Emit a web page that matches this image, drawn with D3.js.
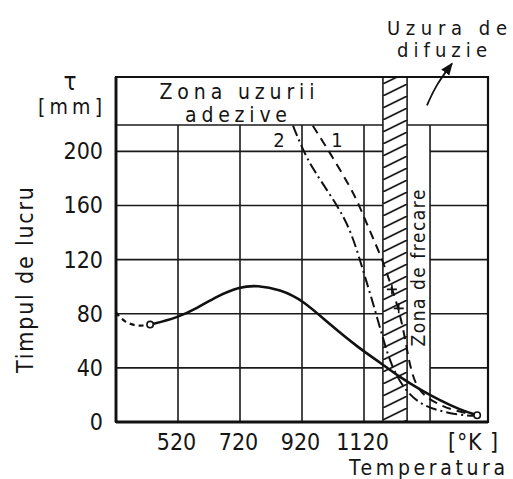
<!DOCTYPE html>
<html lang="ro">
<head>
<meta charset="UTF-8">
<title>Timpul de lucru - Temperatura</title>
<style>
body { margin: 0; background: #fff; }
svg text { font-family: "DejaVu Sans Condensed", "DejaVu Sans", sans-serif; fill: #151515; }
.grid { stroke: #1a1a1a; stroke-width: 1.6; }
.frame { stroke: #111; stroke-width: 2.2; fill: none; }
</style>
</head>
<body>
<script src="https://cdnjs.cloudflare.com/ajax/libs/d3/7.8.5/d3.min.js"></script>
<script>
// values: temperature [K] on x, time [mm] on y
var xTicks = [520, 720, 920, 1120];
var yTicks = [0, 40, 80, 120, 160, 200];
var headerLevel = 219.5;
var zoneLimits = [1181, 1259, 1333]; // hatched band left/right, friction zone right edge

var mainDashed = [[320, 81], [345, 74], [390, 70.5], [430, 72]];
var mainSolid = [[430, 72], [517, 77], [581, 84], [646, 93], [720, 100], [775, 101], [849, 98],
  [923, 90], [1010, 72], [1107, 54], [1172, 44], [1236, 33], [1301, 24],
  [1365, 16], [1430, 9], [1485, 5]];
var curve1 = [[955, 219], [1010, 199], [1075, 174], [1107, 159], [1139, 141], [1178, 121],
  [1210, 99], [1236, 80], [1254, 60], [1270, 39], [1294, 23], [1349, 14], [1414, 8], [1485, 5]];
var curve2 = [[891, 219], [923, 201], [955, 187], [1017, 166], [1075, 144],
  [1117, 112], [1149, 88], [1181, 62], [1206, 43], [1246, 25], [1301, 13], [1365, 8],
  [1430, 5], [1485, 4.5]];
var crossMarks = [[1210, 98], [1232, 84]];
var openPoints = [[430, 72], [1485, 5]];
var arrowPath = [[1323, 234], [1352, 249], [1404, 265]];

var W = 513, H = 479;
var x = d3.scaleLinear().domain([320, 1520]).range([116, 488]);
var y = d3.scaleLinear().domain([0, 255]).range([422, 77]);

var svg = d3.select('body').append('svg').attr('width', W).attr('height', H);

var defs = svg.append('defs');
defs.append('pattern')
    .attr('id', 'hatch')
    .attr('patternUnits', 'userSpaceOnUse')
    .attr('x', x(zoneLimits[0])).attr('y', 0)
    .attr('width', x(zoneLimits[1]) - x(zoneLimits[0])).attr('height', 12)
  .append('line')
    .attr('x1', 0).attr('y1', 12)
    .attr('x2', x(zoneLimits[1]) - x(zoneLimits[0])).attr('y2', 0)
    .attr('stroke', '#111').attr('stroke-width', 1.6);
defs.append('marker')
    .attr('id', 'arrow').attr('viewBox', '0 0 10 10')
    .attr('refX', 9).attr('refY', 5)
    .attr('markerWidth', 7).attr('markerHeight', 7)
    .attr('orient', 'auto')
  .append('path').attr('d', 'M0,1 L10,5 L0,9 Z').attr('fill', '#111');

// hatched band
svg.append('rect')
   .attr('x', x(zoneLimits[0])).attr('y', y(255))
   .attr('width', x(zoneLimits[1]) - x(zoneLimits[0]))
   .attr('height', y(0) - y(255))
   .attr('fill', 'url(#hatch)');

// grid
var g = svg.append('g');
xTicks.forEach(function(t) {
  g.append('line').classed('grid', true)
   .attr('x1', x(t)).attr('x2', x(t)).attr('y1', y(headerLevel)).attr('y2', y(0));
});
yTicks.filter(function(t) { return t > 0; }).concat([headerLevel]).forEach(function(t) {
  g.append('line').classed('grid', true)
   .attr('x1', x(320)).attr('x2', x(zoneLimits[0])).attr('y1', y(t)).attr('y2', y(t));
  g.append('line').classed('grid', true)
   .attr('x1', x(t === headerLevel ? zoneLimits[1] : zoneLimits[2])).attr('x2', x(1520))
   .attr('y1', y(t)).attr('y2', y(t));
});
g.append('line').classed('grid', true)
 .attr('x1', x(zoneLimits[2])).attr('x2', x(zoneLimits[2])).attr('y1', y(headerLevel)).attr('y2', y(0));
[zoneLimits[0], zoneLimits[1]].forEach(function(t) {
  g.append('line').classed('grid', true)
   .attr('x1', x(t)).attr('x2', x(t)).attr('y1', y(255)).attr('y2', y(0));
});

// frame
svg.append('path').classed('frame', true)
   .attr('d', 'M' + x(320) + ',' + y(255) + 'H' + x(1520) + 'V' + y(0) + 'H' + x(320) + 'Z');
svg.append('line').attr('x1', x(320)).attr('x2', x(1520)).attr('y1', y(0)).attr('y2', y(0))
   .attr('stroke', '#111').attr('stroke-width', 2.8);
svg.append('line').attr('x1', x(320)).attr('x2', x(320)).attr('y1', y(255)).attr('y2', y(0))
   .attr('stroke', '#111').attr('stroke-width', 2.8);

// curves
var line = d3.line().x(function(d) { return x(d[0]); }).y(function(d) { return y(d[1]); })
             .curve(d3.curveBasis);

svg.append('path').attr('d', line(mainDashed)).attr('fill', 'none')
   .attr('stroke', '#111').attr('stroke-width', 2.2).attr('stroke-dasharray', '5,4');
svg.append('path').attr('d', line(mainSolid)).attr('fill', 'none')
   .attr('stroke', '#111').attr('stroke-width', 2.6);
svg.append('path').attr('d', line(curve1)).attr('fill', 'none')
   .attr('stroke', '#111').attr('stroke-width', 2).attr('stroke-dasharray', '9,6');
svg.append('path').attr('d', line(curve2)).attr('fill', 'none')
   .attr('stroke', '#111').attr('stroke-width', 2).attr('stroke-dasharray', '11,4,2,4');

svg.selectAll('.cross').data(crossMarks).enter().append('path').classed('cross', true)
   .attr('d', function(d) { var cx = x(d[0]), cy = y(d[1]);
     return 'M' + (cx - 5) + ',' + cy + 'H' + (cx + 5) + 'M' + cx + ',' + (cy - 5) + 'V' + (cy + 5); })
   .attr('stroke', '#111').attr('stroke-width', 1.6);

svg.selectAll('.open').data(openPoints).enter().append('circle').classed('open', true)
   .attr('cx', function(d) { return x(d[0]); }).attr('cy', function(d) { return y(d[1]); })
   .attr('r', 3.2).attr('fill', '#fff').attr('stroke', '#111').attr('stroke-width', 1.6);

// arrow to "Uzura de difuzie"
svg.append('path')
   .attr('d', line(arrowPath))
   .attr('fill', 'none').attr('stroke', '#111').attr('stroke-width', 1.8)
   .attr('marker-end', 'url(#arrow)');

// axes
var yAxis = d3.axisLeft(y).tickValues(yTicks).tickSize(0).tickPadding(13);
var xAxis = d3.axisBottom(x).tickValues(xTicks).tickSize(0).tickPadding(12).tickFormat(d3.format('d'));
var ya = svg.append('g').attr('transform', 'translate(' + x(320) + ',0)').call(yAxis);
var xa = svg.append('g').attr('transform', 'translate(0,' + y(0) + ')').call(xAxis);
[ya, xa].forEach(function(a) {
  a.select('.domain').remove();
  a.selectAll('text').style('font-size', '23px').attr('fill', '#151515')
   .style('font-family', '"DejaVu Sans Condensed", "DejaVu Sans", sans-serif');
});
xa.selectAll('text').attr('dx', -2);

function label(txt, px, py, size, anchor, len) {
  var t = svg.append('text').text(txt).attr('x', px).attr('y', py)
             .style('font-size', size + 'px').attr('text-anchor', anchor || 'middle');
  if (len) t.attr('textLength', len).attr('lengthAdjust', 'spacing');
  return t;
}

label('[°K ]', 448, 450, 23, 'start', 50);
label('Temperatura', 349, 475, 21, 'start', 156);
svg.append('text').text('Timpul de lucru')
   .attr('transform', 'translate(33,280) rotate(-90)')
   .attr('text-anchor', 'middle').style('font-size', '23px')
   .attr('textLength', 186).attr('lengthAdjust', 'spacing');
label('τ', 70, 90, 24, 'middle');
label('[mm]', 70, 114, 21, 'middle', 64);
label('Zona uzurii', 237, 99, 21, 'middle', 155);
label('adezive', 236, 122, 21, 'middle', 102);
label('Uzura de', 447, 35, 20, 'middle', 120);
label('difuzie', 442, 57, 20, 'middle', 90);
label('2', 279, 147, 20, 'middle');
label('1', 337, 147, 20, 'middle');
svg.append('text').text('Zona de frecare')
   .attr('transform', 'translate(425,268) rotate(-90)')
   .attr('text-anchor', 'middle').style('font-size', '19px')
   .attr('textLength', 157).attr('lengthAdjust', 'spacing');
</script>
</body>
</html>
